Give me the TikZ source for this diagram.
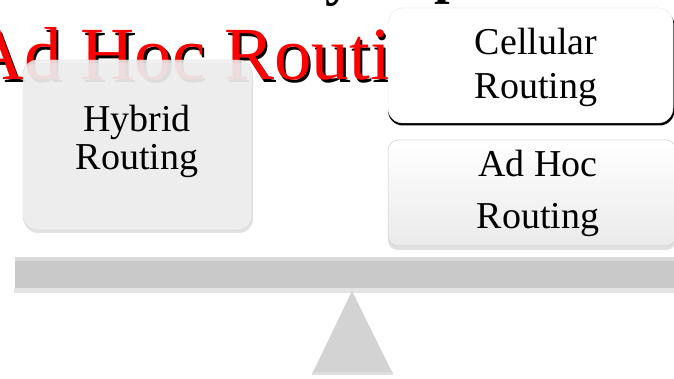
\documentclass[tikz,border=0pt]{standalone}
\usepackage{fontspec}
\setmainfont{Liberation Serif}
\begin{document}
\begin{tikzpicture}[x=1pt,y=-1pt,
  boxtext/.style={inner sep=0pt,anchor=base,font=\fontsize{38}{40}\selectfont,text=black},
  titletext/.style={inner sep=0pt,anchor=base west,font=\fontsize{75}{80}\selectfont}]
\useasboundingbox (0,0) rectangle (674,379);
\definecolor{beamgray}{HTML}{C9C9C9}
\definecolor{beamtop}{HTML}{DADADA}
\definecolor{trigray}{HTML}{D3D3D3}
\definecolor{hybfill}{HTML}{F0F0F0}
\definecolor{adhocbot}{HTML}{EAEAEA}
% fragments of the cut-off heading
\node[titletext,font=\bfseries\fontsize{56}{60}\selectfont] (fragy) at (325,-5) {y};
\node[titletext,font=\bfseries\fontsize{56}{60}\selectfont] (fragp) at (434,-7) {p};
% big title with shadow
\node[titletext,text=black] (titleshadow) at (-27.5,82.5) {Ad Hoc Routing};
\node[titletext,text=red] (title) at (-30,80) {Ad Hoc Routing};
% Hybrid box
\fill[gray!45,opacity=.5,rounded corners=14pt] (24,63) rectangle (253,233);
\fill[hybfill,opacity=.86,rounded corners=14pt] (23,60) rectangle (252,230);
\draw[gray!35,line width=.4pt,rounded corners=14pt] (23,60) rectangle (252,230);
\node[boxtext] (hyb1) at (137,132) {Hybrid};
\node[boxtext] (hyb2) at (137,170) {Routing};
% Cellular box
\fill[black,rounded corners=15pt] (388,10.5) rectangle (674.5,125.5);
\filldraw[fill=white,draw=gray!15,line width=.5pt,rounded corners=15pt] (388,8) rectangle (673,123);
\node[boxtext] (cel1) at (536,55) {Cellular};
\node[boxtext] (cel2) at (536,99) {Routing};
% Ad Hoc box
\fill[gray!40,opacity=.6,rounded corners=10pt] (388,143) rectangle (676,250);
\shade[top color=white,bottom color=adhocbot,rounded corners=10pt] (388,140) rectangle (676,246);
\draw[gray!40,line width=.5pt,rounded corners=10pt] (388,140) rectangle (676,246);
\node[boxtext] (adh1) at (538,177) {Ad Hoc};
\node[boxtext] (adh2) at (538,229) {Routing};
% beam
\fill[gray!35,opacity=.6] (14,288) rectangle (680,293);
\fill[beamgray] (15,257) rectangle (680,288);
\fill[beamtop] (15,257) rectangle (680,261);
% fulcrum
\fill[gray!40,opacity=.6] (312,372) -- (393,372) -- (393,375) -- (312,375) -- cycle;
\fill[trigray] (352,291) -- (392,372) -- (313,372) -- cycle;
\end{tikzpicture}
\end{document}
